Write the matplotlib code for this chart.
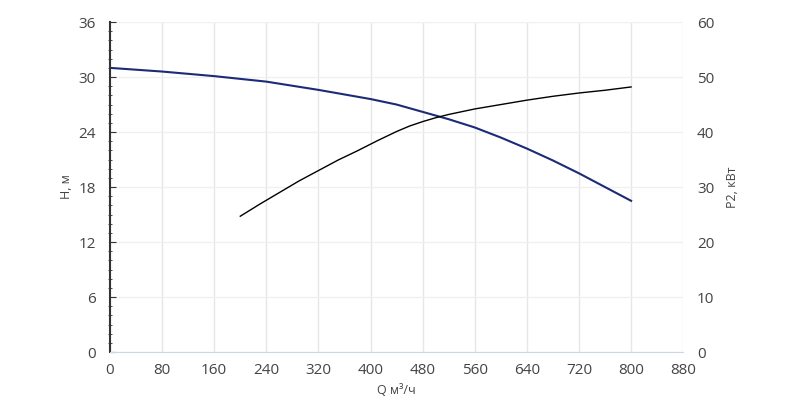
import matplotlib.pyplot as plt
from matplotlib.ticker import MultipleLocator

plt.rcParams["font.family"] = ["Open Sans", "DejaVu Sans"]

q_h = [0, 80, 160, 240, 320, 400, 440, 480, 520, 560, 600, 640, 680, 720, 760, 800]
head = [31.0, 30.6, 30.1, 29.5, 28.6, 27.6, 27.0, 26.2, 25.4, 24.5, 23.4, 22.2, 20.9, 19.5, 18.0, 16.5]
q_p = [200, 230, 260, 290, 320, 350, 380, 410, 440, 460, 480, 500, 520, 560, 600, 640, 680, 720, 760, 800]
power = [24.7, 26.9, 29.0, 31.1, 33.0, 34.9, 36.6, 38.4, 40.1, 41.1, 41.9, 42.6, 43.2, 44.2, 45.0, 45.8, 46.5, 47.1, 47.6, 48.2]

txt = "#444444"
fig, ax = plt.subplots(figsize=(8, 4.08), dpi=100)
fig.subplots_adjust(left=0.1375, right=0.854, top=0.946, bottom=0.137)

ax.plot(q_h, head, color="#1c2a78", lw=1.5)
ax.set_xlim(0, 880)
ax.set_ylim(0, 36)
ax.set_xticks(range(0, 881, 80))
ax.set_yticks(range(0, 37, 6))
ax.yaxis.set_minor_locator(MultipleLocator(1))
ax.grid(True, axis="x", color="#e6e6ea", lw=1)
ax.grid(True, axis="y", color="#f0f0f3", lw=1)
ax.set_axisbelow(True)
for s in ["top", "right"]:
    ax.spines[s].set_visible(False)
ax.spines["bottom"].set_color("#ccd6eb")
ax.spines["left"].set_color("#333333")
ax.spines["left"].set_linewidth(1.5)
ax.tick_params(axis="x", length=0, colors=txt, labelsize=11, pad=8)
ax.tick_params(axis="y", which="major", length=4, direction="in", color="#333333", colors=txt, labelsize=11, pad=10)
ax.tick_params(axis="y", which="minor", length=3, direction="inout", color="#333333")
ax.set_xlabel("Q м³/ч", color=txt, fontsize=9)
ax.set_ylabel("H, м", color=txt, fontsize=9)

ax2 = ax.twinx()
ax2.plot(q_p, power, color="black", lw=1.0)
ax2.set_ylim(0, 60)
ax2.set_yticks(range(0, 61, 10))
for s in ["top", "right", "left", "bottom"]:
    ax2.spines[s].set_visible(False)
ax2.tick_params(axis="y", length=0, colors=txt, labelsize=11, pad=10)
ax2.set_ylabel("P2, кВт", color=txt, fontsize=9, labelpad=8)

fig.savefig("out.png")
